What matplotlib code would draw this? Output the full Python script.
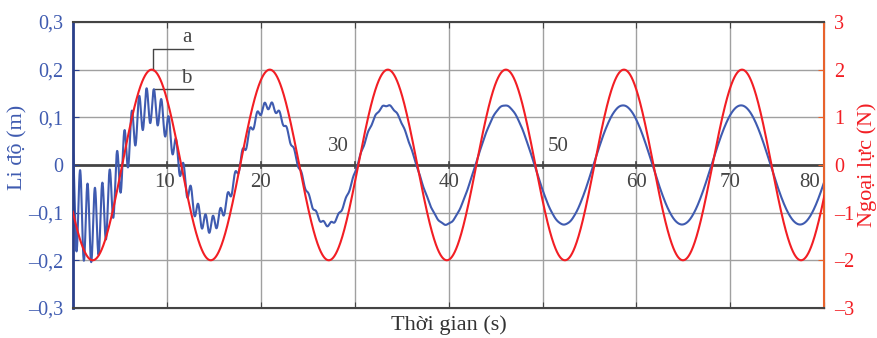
"""Forced oscillation: displacement (blue) and driving force (red) vs time."""
import matplotlib.pyplot as plt
import numpy as np

plt.rcParams["font.family"] = ["Liberation Serif", "DejaVu Serif"]

# values
T_END        = 80.0     # s
OMEGA_F      = 0.5      # rad/s, driving frequency (period ~12.6 s)
F_AMP        = 2.0      # N
F_PEAK_T     = 8.4      # s, time of first force maximum
X_AMP        = 0.125    # m, steady-state displacement amplitude
X_PEAK_T     = 8.3      # s, time of first steady displacement maximum
TR_AMP       = 0.10     # m, transient amplitude at t = 0
TR_OMEGA     = 8.0      # rad/s, natural frequency (ripple period ~0.78 s)
TR_DECAY     = 0.12     # 1/s, damping rate of the ripple

x_ticks      = [10, 20, 30, 40, 50, 60, 70, 80]
x_label_pos  = [9.8, 20, 28.3, 40, 51.7, 60, 70, 78.4]
x_label_up   = [False, False, True, False, True, False, False, False]
left_ticks   = [-0.3, -0.2, -0.1, 0, 0.1, 0.2, 0.3]
left_labels  = ["\u20130,3", "\u20130,2", "\u20130,1", "0", "0,1", "0,2", "0,3"]
right_ticks  = [-3, -2, -1, 0, 1, 2, 3]
right_labels = ["\u20133", "\u20132", "\u20131", "0", "1", "2", "3"]

BLUE  = "#3f5bb0"
NAVY  = "#2a3f8a"
RED   = "#f21e24"
ORNG  = "#e8622c"
GRID  = "#a0a0a0"
TXT   = "#444444"

t = np.linspace(0, T_END, 4000)
force = F_AMP * np.cos(OMEGA_F * (t - F_PEAK_T))
disp = (X_AMP * np.cos(OMEGA_F * (t - X_PEAK_T))
        + TR_AMP * np.exp(-TR_DECAY * t) * np.cos(TR_OMEGA * t))

fig = plt.figure(figsize=(8.77, 3.38), dpi=100)
ax = fig.add_axes([0.083, 0.089, 0.857, 0.846])
ax2 = ax.twinx()

ax.set_xlim(0, T_END)
ax.set_ylim(-0.3, 0.3)
ax2.set_ylim(-3, 3)

for v in x_ticks[:-1]:
    ax.axvline(v, color=GRID, lw=1.0, zorder=0)
for v in [-0.2, -0.1, 0.1, 0.2]:
    ax.axhline(v, color=GRID, lw=1.0, zorder=0)
ax.axhline(0, color=TXT, lw=2.0, zorder=1)
# small ticks on the zero line
for v in x_ticks[:-1]:
    ax.plot([v, v], [-0.006, 0.006], color=TXT, lw=1.2, zorder=1)

ax.plot(t, disp, color=BLUE, lw=1.5, zorder=3)
ax2.plot(t, force, color=RED, lw=1.5, zorder=3)

# x labels drawn inside the plot along the zero line
for v, pos, up in zip(x_ticks, x_label_pos, x_label_up):
    ax.text(pos, 0.018 if up else -0.016, str(v), ha="center",
            va="bottom" if up else "top", fontsize=15, color=TXT)

ax.set_xticks(x_ticks)
ax.set_xticklabels([])
ax.tick_params(axis="x", direction="in", length=4, color=TXT, top=True)
ax.set_yticks(left_ticks)
ax.set_yticklabels(left_labels, fontsize=14.5, color=BLUE)
ax.tick_params(axis="y", direction="in", length=4, color=NAVY, pad=7)
ax2.set_yticks(right_ticks)
ax2.set_yticklabels(right_labels, fontsize=14.5, color=RED)
ax2.tick_params(axis="y", direction="in", length=4, color=ORNG, pad=7)

ax.set_ylabel("Li độ (m)", fontsize=16, color=BLUE)
ax.yaxis.set_label_coords(-0.06, 0.56)
ax2.set_ylabel("Ngoại lực (N)", fontsize=16, color=RED, labelpad=2)
ax.set_xlabel("Thời gian (s)", fontsize=16, color="#333333", labelpad=2)

for s in ("top", "bottom"):
    ax2.spines[s].set_color(TXT)
    ax2.spines[s].set_linewidth(1.5)
ax2.spines["left"].set_color(NAVY)
ax2.spines["left"].set_linewidth(2.0)
ax2.spines["right"].set_color(ORNG)
ax2.spines["right"].set_linewidth(1.5)

# annotation leaders a (force peak) and b (displacement peak)
ax.plot([8.5, 8.5, 12.8], [0.2, 0.243, 0.243], color=TXT, lw=1.0)
ax.text(12.1, 0.247, "a", ha="center", va="bottom", fontsize=15, color=TXT)
ax.plot([8.5, 8.5, 12.8], [0.151, 0.159, 0.159], color=TXT, lw=1.0)
ax.text(12.1, 0.162, "b", ha="center", va="bottom", fontsize=15, color=TXT)

fig.savefig("out.png", dpi=100)
